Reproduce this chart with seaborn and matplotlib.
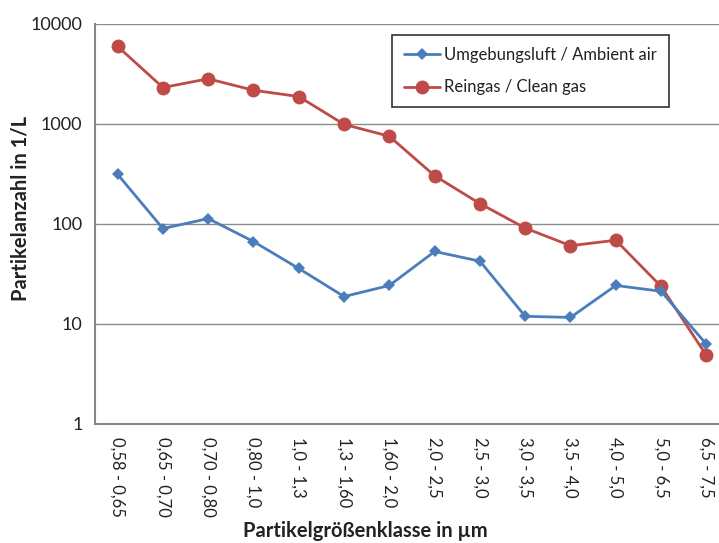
import numpy as np
import pandas as pd
import matplotlib
matplotlib.use("Agg")
import matplotlib.pyplot as plt
import seaborn as sns
from matplotlib.ticker import FixedLocator

categories = ["0,58 - 0,65", "0,65 - 0,70", "0,70 - 0,80", "0,80 - 1,0", "1,0 - 1,3",
              "1,3 - 1,60", "1,60 - 2,0", "2,0 - 2,5", "2,5 - 3,0", "3,0 - 3,5",
              "3,5 - 4,0", "4,0 - 5,0", "5,0 - 6,5", "6,5 - 7,5"]
ambient = [310, 89, 112, 66, 35.5, 18.6, 24, 52.5, 42, 11.8, 11.5, 24, 21, 6.2]
clean = [5900, 2290, 2800, 2150, 1860, 980, 745, 300, 158, 90, 60, 68, 23.5, 4.8]
label_ambient = "Umgebungsluft / Ambient air"
label_clean = "Reingas / Clean gas"
yticks = [1, 10, 100, 1000, 10000]

sns.set_theme(style="white")
plt.rcParams['font.family'] = ['Lato', 'DejaVu Sans']

fig = plt.figure(figsize=(7.19, 5.43), dpi=100)
ax = fig.add_axes([95/719, 1-423.5/543, 634/719, 400/543])

x = np.arange(len(categories))
df_a = pd.DataFrame({"x": x, "y": ambient})
df_c = pd.DataFrame({"x": x, "y": clean})

blue = "#4A7EBB"
red = "#BE4B48"
sns.lineplot(data=df_a, x="x", y="y", ax=ax, color=blue, lw=2, marker="D",
             markersize=6, markeredgewidth=0, label=label_ambient, zorder=4)
sns.lineplot(data=df_c, x="x", y="y", ax=ax, color=red, lw=2, marker="o",
             markersize=10, markeredgewidth=0, label=label_clean, zorder=3)

ax.set_yscale("log")
ax.set_ylim(1, 10000)
ax.set_xlim(-0.5, len(categories) - 0.5)
ax.set_yticks(yticks)
ax.set_yticklabels([str(v) for v in yticks])
ax.yaxis.set_minor_locator(FixedLocator([]))
ax.set_xticks(x)
ax.set_xticklabels(categories, rotation=270, va="top", ha="center")
ax.xaxis.set_minor_locator(FixedLocator(np.arange(-0.5, len(categories), 1.0)))
ax.tick_params(axis="x", which="major", length=0, pad=10, labelsize=12, labelcolor="#222222")
ax.tick_params(axis="x", which="minor", length=5, width=1, color="#888888", direction="out")
ax.tick_params(axis="y", which="major", length=5, width=1, color="#888888", direction="out",
               labelsize=13, labelcolor="#222222", pad=4)

ax.grid(axis="y", which="major", color="#8c8c8c", lw=1)
ax.set_axisbelow(True)
for s in ["top", "right"]:
    ax.spines[s].set_visible(False)
for s in ["left", "bottom"]:
    ax.spines[s].set_color("#888888")
    ax.spines[s].set_linewidth(1.5)

ax.set_xlabel("Partikelgrößenklasse in µm", fontsize=14.5, fontweight="bold", color="#222222")
ax.set_ylabel("Partikelanzahl in 1/L", fontsize=14.5, fontweight="bold", color="#222222")
ax.xaxis.set_label_coords((365 - 95) / 634, -(521 - 423.5) / 400)
ax.yaxis.set_label_coords(-(95 - 30) / 634, (423.5 - 208) / 400)

leg = ax.legend(loc="upper left", bbox_to_anchor=((392 - 95) / 634, (423.5 - 35) / 400),
                frameon=True, fancybox=False, fontsize=12, handlelength=2.2,
                borderpad=0.7, labelspacing=1.0, handletextpad=0.25, borderaxespad=0)
leg.get_frame().set_edgecolor("black")
leg.get_frame().set_linewidth(1.2)
for t in leg.get_texts():
    t.set_color("#222222")

fig.savefig("out.png", dpi=100)
